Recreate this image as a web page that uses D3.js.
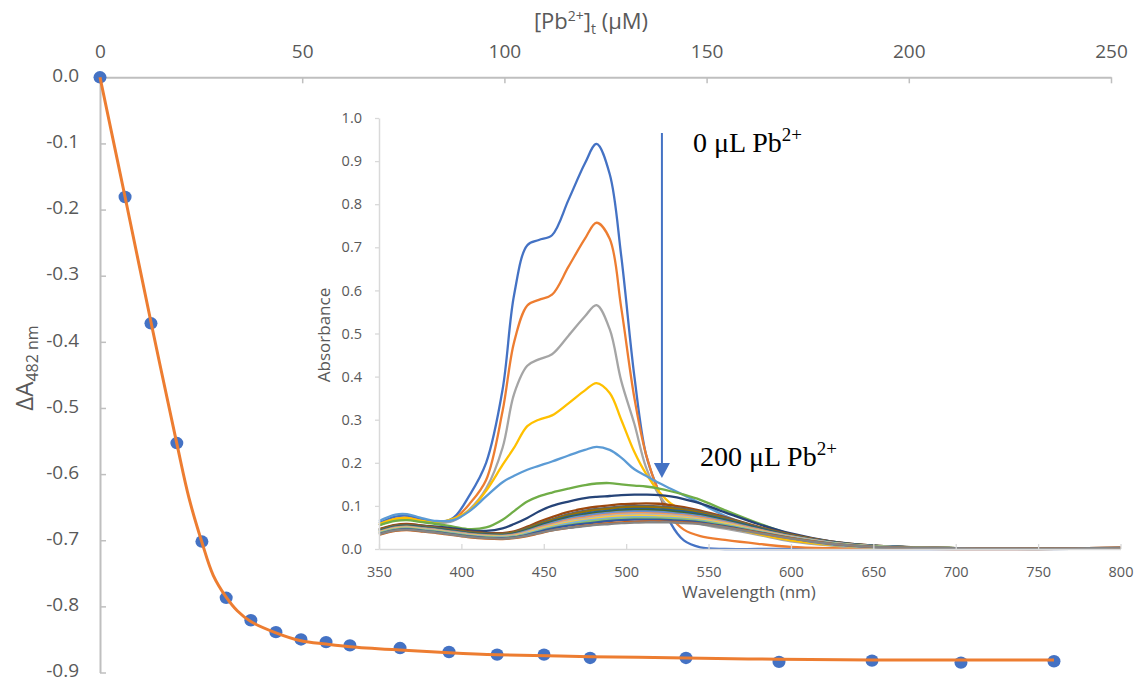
<!DOCTYPE html>
<html>
<head>
<meta charset="utf-8">
<script src="https://cdn.jsdelivr.net/npm/d3@7"></script>
<style>
  html, body { margin: 0; padding: 0; background: #fff; }
  svg { display: block; }
  .ax text { fill: #595959; font-family: "Open Sans", sans-serif; }
</style>
</head>
<body>
<svg id="chart" width="1135" height="682"></svg>
<script>
// ---------- Main titration data ----------
const concX = [0, 6.2, 12.6, 19.0, 25.2, 31.2, 37.3, 43.5, 49.7, 55.9, 61.8, 74.2, 86.3, 98.2, 109.8, 121.2, 144.9, 167.9, 190.9, 212.9, 235.9];
const deltaA = [0, -0.181, -0.372, -0.553, -0.702, -0.787, -0.821, -0.839, -0.850, -0.854, -0.859, -0.863, -0.869, -0.873, -0.873, -0.878, -0.878, -0.884, -0.882, -0.885, -0.883];
const fitX = [0, 6.2, 12.6, 19.0, 22.0, 25.2, 28.0, 31.2, 34.0, 37.3, 43.5, 49.7, 55.9, 61.8, 74.2, 86.3, 98.2, 121.2, 144.9, 167.9, 190.9, 213.0, 235.9];
const fitY = [0, -0.181, -0.370, -0.554, -0.636, -0.703, -0.753, -0.786, -0.807, -0.823, -0.840, -0.852, -0.857, -0.861, -0.866, -0.870, -0.873, -0.876, -0.878, -0.880, -0.881, -0.881, -0.881];
const mainXTicks = [0, 50, 100, 150, 200, 250];
const mainYTicks = [0, -0.1, -0.2, -0.3, -0.4, -0.5, -0.6, -0.7, -0.8, -0.9];

// ---------- Inset spectra data ----------
const wavelengths = [350,360,367,375,385,395,405,415, 425,432,440,447,455,465,475,482, 490,497,505,512,520,527,535,545, 560,580,600,625,650,700,750,800];
const s01 = [0.060,0.075,0.077,0.070,0.062,0.072,0.125,0.200, 0.370,0.590,0.705,0.717,0.728,0.810,0.895,0.940, 0.870,0.680,0.400,0.220,0.130,0.060,0.020,0.004, 0,0,0,0,0,0,0,0.001];
const s02 = [0.055,0.070,0.072,0.066,0.060,0.068,0.105,0.160, 0.320,0.480,0.565,0.578,0.590,0.655,0.720,0.757, 0.720,0.560,0.350,0.220,0.130,0.075,0.045,0.030, 0.021,0.012,0.005,0.002,0.001,0,0,0.002];
const s03 = [0.055,0.068,0.070,0.064,0.060,0.065,0.092,0.140, 0.235,0.360,0.425,0.440,0.452,0.495,0.540,0.566, 0.510,0.390,0.290,0.190,0.125,0.092,0.072,0.058, 0.047,0.033,0.018,0.008,0.003,0.001,0,0.002];
const s04 = [0.058,0.070,0.072,0.066,0.062,0.070,0.090,0.135, 0.195,0.235,0.285,0.300,0.310,0.338,0.368,0.385, 0.362,0.300,0.225,0.175,0.133,0.106,0.090,0.075, 0.055,0.035,0.020,0.009,0.004,0.001,0.001,0.002];
const s05 = [0.065,0.080,0.081,0.073,0.065,0.067,0.088,0.122, 0.155,0.170,0.184,0.193,0.203,0.217,0.230,0.237, 0.230,0.212,0.185,0.170,0.153,0.140,0.125,0.106, 0.077,0.047,0.026,0.010,0.004,0.001,0.001,0.002];
const s06 = [0.055,0.065,0.067,0.063,0.058,0.052,0.046,0.050, 0.068,0.088,0.110,0.122,0.131,0.140,0.148,0.152, 0.153,0.150,0.147,0.145,0.140,0.134,0.126,0.114, 0.090,0.060,0.034,0.014,0.006,0.002,0.001,0.002];
const s07 = [0.045,0.055,0.057,0.055,0.052,0.048,0.043,0.042, 0.048,0.058,0.072,0.087,0.100,0.110,0.118,0.121, 0.123,0.125,0.126,0.126,0.125,0.122,0.116,0.106, 0.085,0.058,0.036,0.017,0.007,0.002,0.001,0.002];
const s08 = [0.046,0.056,0.058,0.055,0.050,0.045,0.040,0.037, 0.037,0.041,0.052,0.063,0.074,0.086,0.094,0.098, 0.101,0.104,0.105,0.106,0.105,0.102,0.097,0.089, 0.074,0.052,0.034,0.017,0.008,0.002,0.001,0.003];
const s09 = [0.044,0.054,0.056,0.053,0.049,0.044,0.039,0.036, 0.035,0.039,0.049,0.059,0.069,0.081,0.089,0.093, 0.096,0.099,0.100,0.100,0.099,0.097,0.093,0.086, 0.072,0.051,0.033,0.017,0.008,0.002,0.001,0.002];
const s10 = [0.043,0.053,0.055,0.052,0.048,0.043,0.038,0.035, 0.034,0.038,0.047,0.057,0.067,0.078,0.086,0.090, 0.093,0.096,0.097,0.097,0.096,0.094,0.090,0.084, 0.070,0.050,0.032,0.016,0.007,0.002,0.001,0.002];
const s11 = [0.042,0.052,0.054,0.051,0.047,0.042,0.037,0.034, 0.033,0.036,0.045,0.055,0.064,0.075,0.082,0.086, 0.089,0.092,0.093,0.093,0.092,0.090,0.087,0.081, 0.068,0.049,0.031,0.016,0.007,0.002,0.001,0.002];
const s12 = [0.041,0.051,0.053,0.050,0.046,0.041,0.036,0.033, 0.032,0.035,0.044,0.053,0.062,0.072,0.079,0.083, 0.086,0.089,0.090,0.090,0.089,0.087,0.084,0.078, 0.066,0.047,0.030,0.015,0.007,0.002,0.001,0.002];
const s13 = [0.040,0.050,0.052,0.049,0.045,0.040,0.035,0.032, 0.031,0.034,0.042,0.051,0.060,0.070,0.077,0.081, 0.084,0.086,0.087,0.087,0.086,0.084,0.081,0.076, 0.064,0.046,0.030,0.015,0.007,0.002,0.001,0.002];
const s14 = [0.039,0.049,0.051,0.048,0.044,0.039,0.034,0.031, 0.030,0.033,0.040,0.049,0.057,0.067,0.073,0.077, 0.080,0.082,0.083,0.083,0.082,0.080,0.078,0.073, 0.062,0.045,0.029,0.014,0.006,0.002,0.001,0.002];
const s15 = [0.038,0.048,0.050,0.047,0.043,0.038,0.033,0.030, 0.029,0.031,0.039,0.047,0.055,0.064,0.070,0.074, 0.077,0.079,0.080,0.080,0.079,0.078,0.075,0.070, 0.060,0.043,0.028,0.014,0.006,0.002,0.001,0.002];
const s16 = [0.038,0.047,0.049,0.046,0.042,0.037,0.032,0.029, 0.028,0.030,0.037,0.045,0.053,0.061,0.067,0.071, 0.074,0.076,0.077,0.077,0.076,0.075,0.072,0.068, 0.058,0.042,0.027,0.013,0.006,0.002,0.001,0.002];
const s17 = [0.037,0.046,0.048,0.045,0.041,0.036,0.031,0.028, 0.027,0.029,0.036,0.043,0.051,0.059,0.065,0.068, 0.071,0.073,0.074,0.074,0.073,0.072,0.070,0.066, 0.056,0.041,0.027,0.013,0.006,0.002,0.001,0.002];
const s18 = [0.036,0.045,0.047,0.044,0.040,0.035,0.030,0.027, 0.026,0.028,0.034,0.041,0.049,0.056,0.062,0.065, 0.068,0.070,0.071,0.071,0.071,0.070,0.068,0.064, 0.055,0.040,0.026,0.013,0.006,0.002,0.001,0.002];
const s19 = [0.035,0.044,0.046,0.043,0.039,0.034,0.029,0.026, 0.025,0.027,0.033,0.040,0.047,0.054,0.059,0.062, 0.065,0.067,0.068,0.068,0.068,0.067,0.065,0.062, 0.053,0.039,0.025,0.012,0.005,0.002,0.001,0.002];
const s20 = [0.033,0.042,0.044,0.041,0.037,0.032,0.027,0.024, 0.023,0.025,0.030,0.036,0.043,0.049,0.054,0.057, 0.060,0.062,0.063,0.064,0.064,0.063,0.062,0.059, 0.051,0.038,0.025,0.012,0.005,0.002,0.001,0.003];
const s21 = [0.034,0.043,0.045,0.042,0.038,0.033,0.028,0.025, 0.024,0.026,0.031,0.037,0.043,0.049,0.053,0.056, 0.058,0.060,0.061,0.062,0.062,0.062,0.060,0.058, 0.050,0.037,0.024,0.012,0.005,0.002,0.001,0.003];
const spectra = [s01,s02,s03,s04,s05,s06,s07,s08,s09,s10,s11,s12,s13,s14,s15,s16,s17,s18,s19,s20,s21];
const spectraColors = ["#4472c4","#ed7d31","#a5a5a5","#ffc000","#5b9bd5","#70ad47","#264478","#9e480e","#636363","#997300","#255e91","#43682b","#698ed0","#f1975a","#b7b7b7","#ffcd33","#7cafdd","#8cc168","#335aa1","#d26012","#848484"];
const insetXTicks = [350,400,450,500,550,600,650,700,750,800];
const insetYTicks = [0,0.1,0.2,0.3,0.4,0.5,0.6,0.7,0.8,0.9,1.0];

const svg = d3.select("#chart");

// ---------- Main chart ----------
const x = d3.scaleLinear().domain([0, 250]).range([100, 1111]);
const y = d3.scaleLinear().domain([0, -0.9]).range([77.3, 672.5]);

const gx = svg.append("g").attr("class", "ax").attr("transform", `translate(0,${y(0)})`)
  .call(d3.axisTop(x).tickValues(mainXTicks).tickSizeInner(-6).tickSizeOuter(0).tickPadding(19).tickFormat(d3.format("d")));
gx.selectAll("text").style("font-size", "19px");
gx.select(".domain").attr("stroke", "#bfbfbf").attr("stroke-width", 2);
gx.selectAll(".tick line").attr("stroke", "#bfbfbf").attr("stroke-width", 1.5);

const gy = svg.append("g").attr("class", "ax").attr("transform", `translate(${x(0)},0)`)
  .call(d3.axisLeft(y).tickValues(mainYTicks).tickSizeInner(-6).tickSizeOuter(0).tickPadding(21).tickFormat(d => d.toFixed(1)));
gy.selectAll("text").style("font-size", "19px").attr("dy", "0.22em");
gy.select(".domain").attr("stroke", "#bfbfbf").attr("stroke-width", 2);
gy.selectAll(".tick line").attr("stroke", "#bfbfbf").attr("stroke-width", 1.5);

// axis titles
const xt = svg.append("text").attr("x", 591).attr("y", 29).attr("text-anchor", "middle")
  .attr("fill", "#595959").style("font-family", "Open Sans, sans-serif").style("font-size", "22px");
xt.append("tspan").text("[Pb");
xt.append("tspan").text("2+").attr("dy", -8).style("font-size", "14px");
xt.append("tspan").text("]").attr("dy", 8);
xt.append("tspan").text("t").attr("dy", 5).style("font-size", "14px");
xt.append("tspan").text(" (μM)").attr("dy", -5);

const yt = svg.append("text").attr("transform", "translate(33,368) rotate(-90)").attr("text-anchor", "middle")
  .attr("fill", "#595959").style("font-family", "Open Sans, sans-serif").style("font-size", "24px");
yt.append("tspan").text("ΔA");
yt.append("tspan").text("482 nm").attr("dy", 5).style("font-size", "16px");

// fit line + points
const fitLine = d3.line().x(d => x(d[0])).y(d => y(d[1])).curve(d3.curveCatmullRom.alpha(0.5));
svg.append("g").selectAll("ellipse").data(concX.map((v, i) => [v, deltaA[i]])).join("ellipse")
  .attr("cx", d => x(d[0])).attr("cy", d => y(d[1])).attr("rx", 6.5).attr("ry", 6.2)
  .attr("fill", "#4472c4");
svg.append("path")
  .datum(fitX.map((v, i) => [v, fitY[i]]))
  .attr("fill", "none").attr("stroke", "#ed7d31").attr("stroke-width", 3)
  .attr("d", fitLine);

// ---------- Inset ----------
const ix = d3.scaleLinear().domain([350, 800]).range([379, 1120.5]);
const iy = d3.scaleLinear().domain([0, 1]).range([549, 118]);

const ilines = svg.append("g");
const lineGen = d3.line().x(d => ix(d[0])).y(d => iy(Math.max(0, d[1]))).curve(d3.curveCatmullRom.alpha(0.5));
spectra.forEach((s, i) => {
  ilines.append("path")
    .datum(wavelengths.map((w, j) => [w, s[j]]))
    .attr("fill", "none").attr("stroke", spectraColors[i]).attr("stroke-width", 2.3)
    .attr("stroke-linejoin", "round").attr("d", lineGen);
});

const igx = svg.append("g").attr("class", "ax").attr("transform", `translate(0,${iy(0)})`)
  .call(d3.axisBottom(ix).tickValues(insetXTicks).tickSizeInner(-5).tickSizeOuter(0).tickPadding(17.5).tickFormat(d3.format("d")));
igx.selectAll("text").style("font-size", "14.5px");
igx.select(".domain").attr("stroke", "#d9d9d9").attr("stroke-width", 1.5);
igx.selectAll(".tick line").attr("stroke", "#d9d9d9").attr("stroke-width", 1.3);

const igy = svg.append("g").attr("class", "ax").attr("transform", `translate(${ix(350)},0)`)
  .call(d3.axisLeft(iy).tickValues(insetYTicks).tickSizeInner(4).tickSizeOuter(0).tickPadding(13).tickFormat(d => d.toFixed(1)));
igy.selectAll("text").style("font-size", "14.5px");
igy.select(".domain").attr("stroke", "#d9d9d9").attr("stroke-width", 1.5);
igy.selectAll(".tick line").attr("stroke", "#d9d9d9").attr("stroke-width", 1.3);

svg.append("text").attr("x", 749).attr("y", 598).attr("text-anchor", "middle")
  .attr("fill", "#595959").style("font-family", "Open Sans, sans-serif").style("font-size", "17px")
  .text("Wavelength (nm)");
svg.append("text").attr("transform", "translate(330,335) rotate(-90)").attr("text-anchor", "middle")
  .attr("fill", "#595959").style("font-family", "Open Sans, sans-serif").style("font-size", "17px")
  .text("Absorbance");

// arrow annotation
const arrowW = 521.7, arrowTop = 0.965, arrowTip = 0.165;
svg.append("line").attr("x1", ix(arrowW)).attr("x2", ix(arrowW)).attr("y1", iy(arrowTop)).attr("y2", iy(arrowTip) - 12)
  .attr("stroke", "#4472c4").attr("stroke-width", 2);
svg.append("path")
  .attr("d", `M${ix(arrowW) - 8},${iy(arrowTip) - 15} L${ix(arrowW) + 8},${iy(arrowTip) - 15} L${ix(arrowW)},${iy(arrowTip)} Z`)
  .attr("fill", "#4472c4");

function pbLabel(txt, wl, ab) {
  const t = svg.append("text").attr("x", ix(wl)).attr("y", iy(ab))
    .attr("fill", "#000").style("font-family", "Liberation Serif, Times New Roman, serif").style("font-size", "28px");
  t.append("tspan").text(txt);
  t.append("tspan").text("2+").attr("dy", -11).style("font-size", "19px");
}
pbLabel("0 μL Pb", 540.6, 0.921);
pbLabel("200 μL Pb", 544.8, 0.193);
</script>
</body>
</html>
